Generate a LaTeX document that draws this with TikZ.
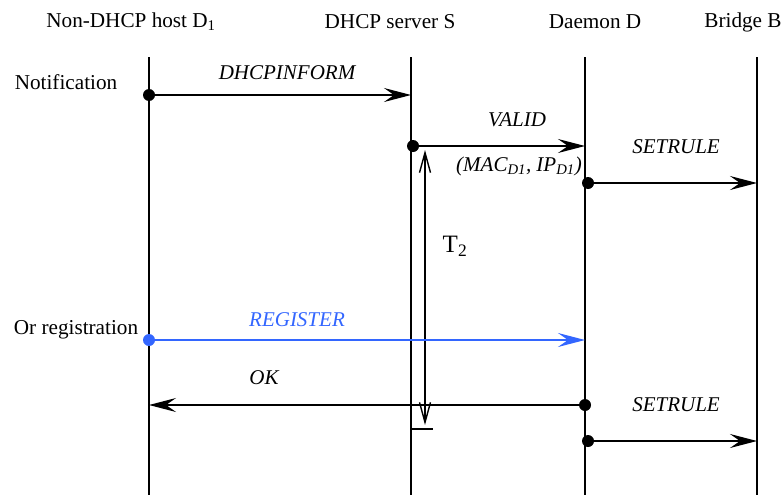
\documentclass[tikz,border=0pt]{standalone}
\usepackage{fontspec}
\setmainfont{Liberation Serif}
\usetikzlibrary{arrows.meta}
\begin{document}
\begin{tikzpicture}[x=1pt,y=-1pt,
  lbl/.style={font=\fontsize{21.2}{24}\selectfont, inner sep=0pt},
  msg/.style={font=\fontsize{21}{24}\selectfont\itshape, inner sep=0pt},
  life/.style={line width=1.4pt},
  arr/.style={line width=1.4pt, -{Stealth[length=27pt,width=14pt,inset=10pt]}},
  dotc/.style={circle, fill=black, inner sep=0pt, minimum size=12pt},
  blu/.style={color=regblue}]
\definecolor{regblue}{RGB}{51,102,255}
\useasboundingbox (0,0) rectangle (783,495);
% headers
\node[lbl] (hD1) at (131,22) {Non-DHCP host D\textsubscript{1}};
\node[lbl] (hS) at (390,22) {DHCP server S};
\node[lbl] (hD) at (595,22) {Daemon D};
\node[lbl] (hB) at (743,22) {Bridge B};
\node[lbl] (notif) at (66,82) {Notification};
\node[lbl] (orreg) at (76,330) {Or registration};
% lifelines
\coordinate (tD1) at (149,57); \coordinate (bD1) at (149,495);
\coordinate (tS) at (411,57); \coordinate (bS) at (411,495);
\coordinate (tD) at (585,57); \coordinate (bD) at (585,495);
\coordinate (tB) at (757,57); \coordinate (bB) at (757,495);
\draw[life] (tD1) -- (bD1);
\draw[life] (tS) -- (bS);
\draw[life] (tD) -- (bD);
\draw[life] (tB) -- (bB);
% DHCPINFORM
\node[dotc] (d1) at (149,95) {};
\coordinate (e1) at (411,95);
\draw[arr] (d1.center) -- (e1);
\node[msg] (m1) at (287,73) {DHCPINFORM};
% VALID
\node[dotc] (d2) at (413,146) {};
\coordinate (e2) at (585,146);
\draw[arr] (d2.center) -- (e2);
\node[msg] (m2) at (517,120) {VALID};
\node[msg] (m2b) at (519,166) {(MAC\textsubscript{D1}, IP\textsubscript{D1})};
% SETRULE 1
\node[dotc] (d3) at (588,183) {};
\coordinate (e3) at (757,183);
\draw[arr] (d3.center) -- (e3);
\node[msg] (m3) at (676,147) {SETRULE};
% T2
\coordinate (t2a) at (425,150);
\coordinate (t2b) at (425,425);
\draw[line width=1.4pt, {Straight Barb[length=20pt,width=11pt]}-{Straight Barb[length=20pt,width=11pt]}] (t2a) -- (t2b);
\node[font=\fontsize{25}{28}\selectfont, inner sep=0pt] (t2) at (455,246) {T\textsubscript{2}};
\coordinate (tk1) at (411,429); \coordinate (tk2) at (433,429);
\draw[life] (tk1) -- (tk2);
% REGISTER
\node[dotc, fill=regblue] (d4) at (149,340) {};
\coordinate (e4) at (585,340);
\draw[arr, regblue] (d4.center) -- (e4);
\node[msg, text=regblue] (m4) at (297,320) {REGISTER};
% OK
\node[dotc] (d5) at (585,405) {};
\coordinate (e5) at (149,405);
\draw[arr] (d5.center) -- (e5);
\node[msg] (m5) at (264,378) {OK};
% SETRULE 2
\node[dotc] (d6) at (588,441) {};
\coordinate (e6) at (757,441);
\draw[arr] (d6.center) -- (e6);
\node[msg] (m6) at (676,405) {SETRULE};
\end{tikzpicture}
\end{document}
